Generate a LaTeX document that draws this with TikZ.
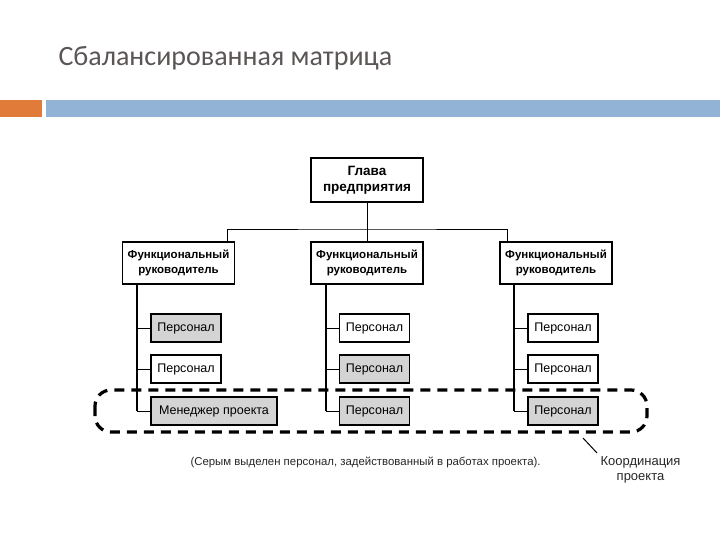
\documentclass[tikz,border=0pt]{standalone}
\usepackage{fontspec}
\setmainfont{Liberation Sans}
\newfontfamily\titlefont{Carlito}
\definecolor{barorange}{HTML}{E07B39}
\definecolor{barblue}{HTML}{93B3D6}
\definecolor{titlegray}{HTML}{5B5555}
\definecolor{staffgray}{HTML}{D4D4D4}
\begin{document}
\begin{tikzpicture}[x=1pt,y=-1pt,
  box/.style={draw=black,line width=1.1pt,inner sep=0pt,align=center},
  headbox/.style={box,minimum width=112pt,minimum height=44pt,font=\fontsize{13.5}{16}\selectfont\bfseries},
  funcbox/.style={box,minimum width=112pt,minimum height=42pt,font=\fontsize{11.5}{15.5}\selectfont\bfseries},
  staff/.style={box,minimum width=70pt,minimum height=28pt,font=\fontsize{12.5}{14}\selectfont},
  busy/.style={fill=staffgray},
  link/.style={draw=black,line width=0.9pt},
  col/.style={draw=black,line width=1.6pt},
  note/.style={font=\fontsize{11.4}{15}\selectfont,text=black!85}]
\useasboundingbox (0,0) rectangle (720,540);
% title and bars
\node[anchor=west,text=titlegray,font=\titlefont\fontsize{28}{32}\selectfont] (title) at (55,58) {Сбалансированная матрица};
\fill[barorange] (0,100) rectangle (42,117);
\fill[barblue] (46,100) rectangle (720,117);
% head
\node[headbox] (head) at (367,180) {Глава\\предприятия};
% functional managers
\node[funcbox] (f1) at (178.5,263) {Функциональный\\руководитель};
\node[funcbox] (f2) at (367,263) {Функциональный\\руководитель};
\node[funcbox] (f3) at (556,263) {Функциональный\\руководитель};
% bus
\coordinate (bus) at (367,229);
\draw[link] (head.south) -- (f2.north);
\draw[link] (f1.north -| 227,0) |- (bus) -| (f3.north -| 507,0);
% staff column 1
\node[staff,busy] (s11) at (186,328) {Персонал};
\node[staff] (s12) at (186,369) {Персонал};
\node[staff,busy,minimum width=126pt] (s13) at (214,411) {Менеджер проекта};
% column 2
\node[staff] (s21) at (374.5,328) {Персонал};
\node[staff,busy] (s22) at (374.5,369) {Персонал};
\node[staff,busy] (s23) at (374.5,411) {Персонал};
% column 3
\node[staff] (s31) at (563,328) {Персонал};
\node[staff] (s32) at (563,369) {Персонал};
\node[staff,busy] (s33) at (563,411) {Персонал};
% columns
\coordinate (c1) at (137,411);
\coordinate (c2) at (326,411);
\coordinate (c3) at (514,411);
\draw[col] (f1.south -| c1) -- (c1);
\draw[col] (f2.south -| c2) -- (c2);
\draw[col] (f3.south -| c3) -- (c3);
\foreach \r in {1,2,3}{
  \draw[link] (s1\r.west -| c1) -- (s1\r.west);
  \draw[link] (s2\r.west -| c2) -- (s2\r.west);
  \draw[link] (s3\r.west -| c3) -- (s3\r.west);
}
% project coordination frame
\draw[line width=3.2pt,dash pattern=on 10pt off 7pt,rounded corners=16pt] (95,390) rectangle (647,432);
\coordinate (ptr) at (583,438);
\node[note,font=\fontsize{13}{15.5}\selectfont,align=center,anchor=north west] (coord) at (597,453) {Координация\\проекта};
\draw[line width=1pt] (ptr) -- (coord.north west);
\node[note,anchor=west] (legend) at (187,462) {(Серым выделен персонал, задействованный в работах проекта).};
\end{tikzpicture}
\end{document}
